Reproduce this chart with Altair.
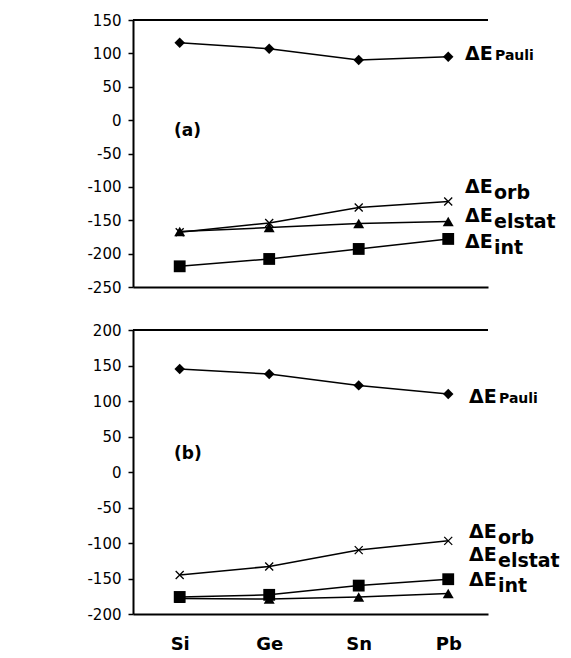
import altair as alt
import pandas as pd

elements = ["Si", "Ge", "Sn", "Pb"]
series_keys = ["Pauli", "orb", "elstat", "int"]

# panel (a)
a_pauli = [116, 107, 90, 95]
a_orb = [-168, -154, -131, -122]
a_elstat = [-167, -161, -155, -152]
a_int = [-219, -208, -193, -178]
a_label_y = [99, -100, -143, -183]

# panel (b)
b_pauli = [145, 138, 122, 110]
b_orb = [-145, -133, -110, -97]
b_elstat = [-178, -179, -176, -171]
b_int = [-176, -173, -160, -151]
b_label_y = [105, -84, -117, -152]

a_ticks = [150, 100, 50, 0, -50, -100, -150, -200, -250]
b_ticks = [200, 150, 100, 50, 0, -50, -100, -150, -200]

W = 355
shapes = {"Pauli": "diamond", "orb": "M-1,-1L1,1M-1,1L1,-1",
          "elstat": "triangle-up", "int": "square"}
sizes = {"Pauli": 110, "orb": 64, "elstat": 120, "int": 140}


def long_df(vals):
    rows = []
    for s, v in zip(series_keys, vals):
        for e, y in zip(elements, v):
            rows.append({"series": s, "element": e, "value": y})
    return pd.DataFrame(rows)


def make_panel(vals, ticks, height, show_x, tag, tag_y, label_y, lab_x):
    df = long_df(vals)
    ymin, ymax = min(ticks), max(ticks)
    if show_x:
        xaxis = alt.Axis(title=None, ticks=False, domain=True, domainColor="black",
                         domainWidth=2, labelAngle=0, labelFont="DejaVu Sans",
                         labelFontWeight="bold", labelFontSize=18, labelColor="black",
                         labelPadding=21)
    else:
        xaxis = alt.Axis(title=None, ticks=False, labels=False, domain=True,
                         domainColor="black", domainWidth=2)
    x = alt.X("element:N", sort=elements,
              scale=alt.Scale(type="point", padding=0.483, align=0.54), axis=xaxis)
    y = alt.Y("value:Q", scale=alt.Scale(domain=[ymin, ymax], nice=False, zero=False),
              axis=alt.Axis(values=ticks, title=None, tickSize=5, tickColor="black",
                            tickWidth=1.5, domainColor="black", domainWidth=2,
                            labelFont="DejaVu Sans", labelFontSize=15, labelColor="black",
                            labelPadding=7, grid=False, minExtent=50, maxExtent=50,
                            labelExpr="datum.value < 0 ? '-' + abs(datum.value) : '' + datum.value"))
    base = alt.Chart(df)
    layers = [base.mark_line(color="black", strokeWidth=1.5).encode(x=x, y=y, detail="series:N")]
    for s in series_keys:
        layers.append(
            base.transform_filter(alt.datum.series == s)
            .mark_point(shape=shapes[s], size=sizes[s], filled=(s != "orb"),
                        color="black", opacity=1, strokeWidth=1.3)
            .encode(x=x, y=y)
        )
    one = alt.Chart(pd.DataFrame({"value": [ymax]}))
    layers.append(one.mark_rule(color="black", strokeWidth=2).encode(
        x=alt.value(0), x2=alt.value(W), y=y))
    tagdf = pd.DataFrame({"value": [tag_y], "t": [tag]})
    layers.append(alt.Chart(tagdf).mark_text(align="left", baseline="middle",
                                             font="DejaVu Sans", fontWeight="bold",
                                             fontSize=17, color="black").encode(
        x=alt.value(41), y=y, text="t:N"))
    ldf = pd.DataFrame({"name": series_keys, "value": label_y})
    lab = alt.Chart(ldf)
    layers.append(lab.mark_text(text="ΔE", align="left", baseline="middle",
                                font="DejaVu Sans", fontWeight="bold", fontSize=19,
                                color="black").encode(x=alt.value(lab_x), y=y))
    layers.append(lab.transform_filter(alt.datum.name == "Pauli").mark_text(
        align="left", baseline="middle", font="DejaVu Sans", fontWeight="bold",
        fontSize=14, color="black", dx=30, dy=2).encode(x=alt.value(lab_x), y=y, text="name:N"))
    layers.append(lab.transform_filter(alt.datum.name != "Pauli").mark_text(
        align="left", baseline="middle", font="DejaVu Sans", fontWeight="bold",
        fontSize=19, color="black", dx=29, dy=6).encode(x=alt.value(lab_x), y=y, text="name:N"))
    return alt.layer(*layers).properties(width=W, height=height)


pa = make_panel([a_pauli, a_orb, a_elstat, a_int], a_ticks, 267, False, "(a)", -16, a_label_y, 332)
pb = make_panel([b_pauli, b_orb, b_elstat, b_int], b_ticks, 284, True, "(b)", 25, b_label_y, 336)

chart = alt.vconcat(pa, pb, spacing=43, bounds="flush").properties(
    padding={"left": 75, "top": 5, "right": 0, "bottom": 0}
).configure_view(stroke=None)

chart.save("out.html", embed_options={"renderer": "svg", "actions": False})
